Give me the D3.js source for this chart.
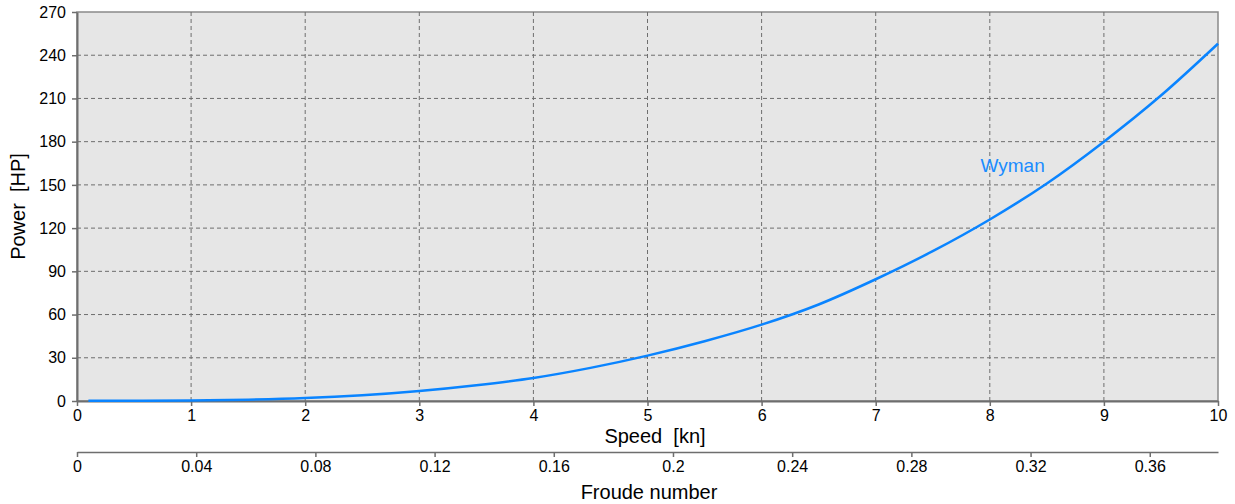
<!DOCTYPE html>
<html>
<head>
<meta charset="utf-8">
<script src="https://cdn.jsdelivr.net/npm/d3@7"></script>
<style>
  body { margin: 0; background: #fff; }
  text { font-family: "Liberation Sans", Arial, sans-serif; fill: #000; white-space: pre; }
</style>
</head>
<body>
<div id="chart"></div>
<script>
// speed [kn] vs power [HP]
const speeds = [0.1, 0.5, 1, 1.5, 2, 2.5, 3, 3.5, 4, 4.5, 5, 5.5, 6, 6.5, 7, 7.5, 8, 8.5, 9, 9.5, 10];
const power = [0.1, 0.1, 0.4, 0.9, 2, 4, 7, 11, 16, 23, 31.5, 41.5, 53, 67, 84.5, 104, 126, 151, 180, 212, 248];
const speedTicks = [0, 1, 2, 3, 4, 5, 6, 7, 8, 9, 10];
const powerTicks = [0, 30, 60, 90, 120, 150, 180, 210, 240, 270];
const froudeTicks = [0, 0.04, 0.08, 0.12, 0.16, 0.2, 0.24, 0.28, 0.32, 0.36];
const froudeMax = 0.3829;

const width = 1235, height = 504;
const margin = { top: 12, right: 17, bottom: 103, left: 77 };
const w = width - margin.left - margin.right,
  h = height - margin.top - margin.bottom;

const svg = d3.select("#chart").append("svg")
  .attr("width", width).attr("height", height);

const x = d3.scaleLinear().domain([0, 10]).range([margin.left, margin.left + w]);
const y = d3.scaleLinear().domain([0, 270]).range([margin.top + h, margin.top]);
const xf = d3.scaleLinear().domain([0, froudeMax]).range([margin.left, margin.left + w]);

// plot background
svg.append("rect")
  .attr("x", x(0)).attr("y", y(270))
  .attr("width", w).attr("height", h)
  .attr("fill", "#e6e6e6")
  .attr("stroke", "#8a8a8a").attr("stroke-width", 1.5);

// grid
svg.append("g").selectAll("line")
  .data(powerTicks.filter(d => d > 0 && d < 270))
  .join("line")
  .attr("x1", x(0)).attr("x2", x(10))
  .attr("y1", d => y(d)).attr("y2", d => y(d))
  .attr("stroke", "#6e6e6e").attr("stroke-dasharray", "4,3");
svg.append("g").selectAll("line")
  .data(speedTicks.filter(d => d > 0 && d < 10))
  .join("line")
  .attr("x1", d => x(d)).attr("x2", d => x(d))
  .attr("y1", y(0)).attr("y2", y(270))
  .attr("stroke", "#6e6e6e").attr("stroke-dasharray", "4,3");

// axes
const axisStyle = g => {
  g.selectAll("path").attr("stroke", "#6e6e6e").attr("stroke-width", 2);
  g.selectAll(".tick line").attr("stroke", "#6e6e6e").attr("stroke-width", 1.5);
  g.selectAll("text").attr("font-size", 16).attr("font-family", "Liberation Sans, Arial, sans-serif").attr("fill", "#000");
};

svg.append("g")
  .attr("transform", `translate(${x(0)},0)`)
  .call(d3.axisLeft(y).tickValues(powerTicks).tickSize(5).tickSizeOuter(0).tickPadding(6))
  .call(axisStyle);

svg.append("g")
  .attr("transform", `translate(0,${y(0)})`)
  .call(d3.axisBottom(x).tickValues(speedTicks).tickFormat(d3.format("d")).tickSize(5).tickSizeOuter(0).tickPadding(4))
  .call(axisStyle);

svg.append("g")
  .attr("transform", `translate(0,452)`)
  .call(d3.axisBottom(xf).tickValues(froudeTicks).tickFormat(d => d === 0 ? "0" : d3.format(".2~f")(d)).tickSize(5).tickSizeOuter(0).tickPadding(4))
  .call(g => {
    axisStyle(g);
    g.select("path").attr("stroke-width", 1.5);
  });

// curve
const line = d3.line().x((d, i) => x(speeds[i])).y(d => y(d)).curve(d3.curveMonotoneX);
svg.append("path")
  .datum(power)
  .attr("d", line)
  .attr("fill", "none")
  .attr("stroke", "#0a84ff")
  .attr("stroke-width", 2.5);

svg.append("text")
  .attr("x", x(8.2)).attr("y", y(159))
  .attr("text-anchor", "middle")
  .attr("font-size", 19)
  .style("fill", "#1a8cff")
  .text("Wyman");

// axis titles
svg.append("text")
  .attr("x", 655).attr("y", 443)
  .attr("text-anchor", "middle").attr("font-size", 20)
  .text("Speed  [kn]");
svg.append("text")
  .attr("x", 649).attr("y", 499)
  .attr("text-anchor", "middle").attr("font-size", 20)
  .text("Froude number");
svg.append("text")
  .attr("transform", `translate(25,${margin.top + h / 2}) rotate(-90)`)
  .attr("text-anchor", "middle").attr("font-size", 20)
  .text("Power  [HP]");
</script>
</body>
</html>
